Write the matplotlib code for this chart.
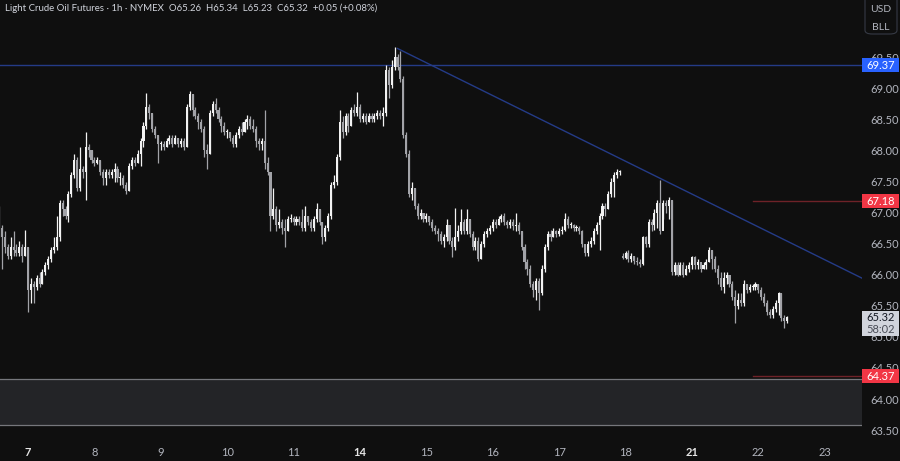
import matplotlib
matplotlib.use('Agg')
import matplotlib.pyplot as plt
import numpy as np
from matplotlib.patches import Rectangle, FancyBboxPatch

# hourly bars
closes = [66.75, 66.60, 66.45, 66.30, 66.45, 66.40, 66.35, 66.45, 66.30, 66.45,
          65.75, 65.85, 65.80, 65.95, 65.85, 66.05, 66.15, 66.25, 66.40, 66.45,
          66.60, 67.15, 67.05, 66.95, 67.30, 67.60, 67.85, 67.40, 67.70, 67.65,
          68.05, 68.00, 67.85, 67.80, 67.85, 67.65, 67.55, 67.65, 67.60, 67.65,
          67.70, 67.55, 67.55, 67.45, 67.35, 67.75, 67.85, 67.80, 67.95, 68.15,
          68.40, 68.70, 68.60, 68.35, 68.25, 68.10, 68.10, 68.05, 68.15, 68.20,
          68.10, 68.20, 68.10, 68.15, 68.05, 68.70, 68.90, 68.65, 68.55, 68.45,
          68.35, 68.00, 67.95, 68.60, 68.75, 68.65, 68.50, 68.40, 68.30, 68.30,
          68.20, 68.10, 68.25, 68.35, 68.30, 68.45, 68.50, 68.40, 68.35, 68.15,
          68.10, 68.15, 67.80, 67.65, 66.95, 67.05, 66.80, 66.85, 66.75, 66.70,
          66.90, 66.92, 66.85, 66.90, 66.85, 66.75, 66.95, 66.85, 66.75, 66.90,
          67.05, 66.85, 66.60, 66.75, 66.95, 67.45, 67.50, 67.90, 68.45, 68.30,
          68.55, 68.40, 68.65, 68.60, 68.70, 68.50, 68.55, 68.45, 68.55, 68.50,
          68.55, 68.60, 68.55, 68.60, 69.30, 69.05, 69.35, 69.50, 69.35, 69.15,
          68.25, 67.95, 67.30, 67.40, 67.10, 66.95, 67.00, 66.90, 66.95, 66.85,
          66.75, 66.70, 66.65, 66.55, 66.60, 66.80, 66.55, 66.45, 66.60, 66.70,
          66.85, 66.70, 66.90, 66.65, 66.45, 66.55, 66.25, 66.50, 66.65, 66.70,
          66.75, 66.85, 66.80, 66.90, 66.95, 66.85, 66.80, 66.85, 66.78, 66.80,
          66.70, 66.45, 66.20, 66.10, 65.85, 65.75, 65.90, 65.70, 66.10, 66.45,
          66.65, 66.60, 66.70, 66.65, 66.70, 66.72, 66.90, 66.80, 66.80, 66.75,
          66.75, 66.70, 66.50, 66.35, 66.50, 66.55, 66.70, 66.80, 66.95, 67.10,
          67.05, 67.30, 67.50, 67.60, 67.65, 67.65, 66.27, 66.35, 66.25, 66.30,
          66.22, 66.20, 66.18, 66.60, 66.50, 66.85, 66.80, 67.00, 67.15, 66.70,
          67.15, 67.10, 67.20, 66.05, 66.15, 66.00, 66.15, 66.00, 66.10, 66.15,
          66.28, 66.15, 66.20, 66.10, 66.15, 66.20, 66.40, 66.25, 66.10, 65.95,
          65.80, 65.95, 66.00, 65.85, 65.65, 65.50, 65.60, 65.55, 65.85, 65.75,
          65.80, 65.80, 65.85, 65.75, 65.65, 65.55, 65.40, 65.35, 65.45, 65.55,
          65.70, 65.30, 65.26, 65.32]
highs = [67.10, 66.80, 66.70, 66.50, 66.60, 66.70, 66.50, 66.55, 66.50, 66.72,
         66.45, 65.95, 65.90, 66.00, 66.05, 66.10, 66.20, 66.30, 66.45, 66.60,
         66.95, 67.20, 67.20, 67.10, 67.35, 67.65, 67.95, 67.90, 68.05, 67.75,
         68.30, 68.10, 68.00, 67.90, 67.90, 67.85, 67.70, 67.70, 67.70, 67.70,
         67.80, 67.75, 67.65, 67.60, 67.50, 67.80, 67.90, 67.90, 68.00, 68.20,
         68.45, 68.92, 68.75, 68.60, 68.40, 68.25, 68.15, 68.15, 68.20, 68.25,
         68.25, 68.25, 68.20, 68.20, 68.20, 68.75, 68.95, 68.90, 68.70, 68.60,
         68.50, 68.40, 68.10, 68.65, 68.80, 68.85, 68.70, 68.55, 68.45, 68.35,
         68.30, 68.25, 68.30, 68.40, 68.45, 68.50, 68.57, 68.55, 68.50, 68.40,
         68.20, 68.20, 68.65, 67.90, 67.65, 67.40, 67.10, 67.05, 66.90, 66.90,
         66.95, 66.98, 66.95, 66.95, 66.95, 67.05, 67.10, 66.95, 66.90, 66.95,
         67.15, 67.05, 66.85, 66.80, 67.00, 67.50, 67.60, 67.95, 68.65, 68.55,
         68.60, 68.60, 68.70, 68.75, 68.94, 68.75, 68.60, 68.60, 68.60, 68.60,
         68.60, 68.65, 68.65, 68.70, 69.37, 69.35, 69.45, 69.66, 69.55, 69.60,
         69.20, 68.30, 68.00, 67.50, 67.40, 67.15, 67.05, 67.00, 67.00, 66.95,
         66.90, 66.80, 66.75, 66.70, 66.65, 66.90, 66.80, 66.60, 67.07, 66.80,
         67.05, 66.90, 67.05, 66.90, 66.70, 66.60, 66.60, 66.55, 66.70, 66.75,
         66.80, 66.90, 66.90, 66.95, 66.98, 67.00, 66.88, 66.90, 66.90, 67.00,
         66.85, 66.70, 66.50, 66.25, 66.15, 65.90, 65.95, 65.95, 66.15, 66.50,
         66.70, 66.72, 66.75, 66.72, 66.75, 66.78, 67.00, 66.95, 66.85, 66.82,
         66.80, 66.78, 66.72, 66.50, 66.55, 66.60, 66.75, 66.85, 67.00, 67.15,
         67.15, 67.35, 67.55, 67.65, 67.70, 67.68, 66.35, 66.38, 66.40, 66.35,
         66.30, 66.28, 66.25, 66.62, 66.62, 66.90, 66.90, 67.05, 67.20, 67.52,
         67.20, 67.20, 67.25, 67.20, 66.20, 66.20, 66.20, 66.20, 66.15, 66.20,
         66.30, 66.30, 66.25, 66.20, 66.20, 66.25, 66.45, 66.40, 66.30, 66.15,
         66.05, 66.05, 66.05, 66.00, 65.90, 65.75, 65.70, 65.70, 65.92, 65.85,
         65.85, 65.85, 65.88, 65.85, 65.80, 65.70, 65.60, 65.45, 65.50, 65.60,
         65.72, 65.70, 65.35, 65.34]
lows = [66.60, 66.10, 66.35, 66.25, 66.25, 66.30, 66.30, 66.30, 66.20, 66.30,
        65.40, 65.55, 65.55, 65.75, 65.80, 65.85, 66.00, 66.10, 66.20, 66.35,
        66.40, 66.55, 66.95, 66.90, 66.85, 67.25, 67.55, 67.35, 67.35, 67.55,
        67.20, 67.90, 67.80, 67.75, 67.78, 67.60, 67.45, 67.45, 67.55, 67.55,
        67.50, 67.50, 67.45, 67.40, 67.30, 67.35, 67.70, 67.75, 67.80, 67.75,
        68.05, 68.35, 68.50, 68.30, 68.20, 67.80, 68.00, 68.00, 68.05, 68.10,
        68.05, 68.10, 68.05, 68.05, 68.00, 68.05, 68.65, 68.55, 68.50, 68.35,
        68.30, 67.90, 67.70, 67.95, 68.55, 68.60, 68.45, 68.30, 68.25, 68.20,
        68.15, 68.05, 68.05, 68.20, 68.25, 68.30, 68.35, 68.35, 68.30, 68.05,
        68.00, 68.00, 67.70, 67.60, 66.70, 66.90, 66.70, 66.75, 66.65, 66.45,
        66.70, 66.85, 66.80, 66.80, 66.80, 66.70, 66.70, 66.80, 66.70, 66.70,
        66.85, 66.80, 66.50, 66.55, 66.70, 66.90, 67.40, 67.45, 67.85, 68.20,
        68.25, 68.30, 68.40, 68.55, 68.55, 68.45, 68.45, 68.42, 68.45, 68.45,
        68.45, 68.50, 68.50, 68.40, 68.55, 68.84, 69.00, 69.30, 69.30, 69.10,
        68.20, 67.90, 67.25, 67.20, 67.05, 66.90, 66.90, 66.85, 66.85, 66.80,
        66.70, 66.65, 66.55, 66.50, 66.45, 66.55, 66.50, 66.29, 66.40, 66.55,
        66.65, 66.65, 66.65, 66.60, 66.40, 66.40, 66.22, 66.25, 66.45, 66.60,
        66.65, 66.70, 66.75, 66.80, 66.85, 66.80, 66.75, 66.75, 66.72, 66.70,
        66.65, 66.40, 66.10, 66.00, 65.80, 65.65, 65.60, 65.43, 65.68, 66.05,
        66.40, 66.55, 66.60, 66.60, 66.62, 66.65, 66.70, 66.75, 66.75, 66.70,
        66.70, 66.65, 66.45, 66.30, 66.30, 66.45, 66.50, 66.65, 66.40, 66.90,
        66.95, 67.05, 67.25, 67.25, 67.55, 67.60, 66.25, 66.25, 66.20, 66.20,
        66.18, 66.15, 66.12, 66.15, 66.45, 66.45, 66.70, 66.72, 66.75, 66.65,
        66.90, 67.00, 66.90, 66.00, 66.00, 65.98, 66.00, 65.97, 66.00, 66.05,
        66.10, 66.10, 66.10, 66.05, 66.10, 66.10, 66.20, 66.10, 66.05, 65.85,
        65.75, 65.70, 65.85, 65.80, 65.60, 65.22, 65.45, 65.50, 65.50, 65.70,
        65.72, 65.75, 65.75, 65.70, 65.60, 65.50, 65.35, 65.30, 65.30, 65.40,
        65.35, 65.25, 65.15, 65.23]
first_open = 67.05
gap_bar = 216      # contract roll: the bar opens away from the prior close
gap_open = 66.30

day_labels = ['7', '8', '9', '10', '11', '14', '15', '16', '17', '18', '21', '22', '23']
week_starts = ['7', '14', '21']
first_day_bar = 10
bars_per_day = 23

price_ticks = [63.5, 64.0, 64.5, 65.0, 65.5, 66.0, 66.5, 67.0, 67.5, 68.0, 68.5, 69.0, 69.5]
resistance = 69.37
level_mid = 67.18
level_low = 64.37
zone_bottom, zone_top = 63.58, 64.33
trend_bars = [138, 300]
trend_prices = [69.64, 65.92]
level_start_bar = 261
last_price = 65.32
countdown = '58:02'
header = 'Light Crude Oil Futures · 1h · NYMEX  O65.26  H65.34  L65.23  C65.32  +0.05 (+0.08%)'

BG = '#0f0f0f'
TXT = '#b2b5be'
BLUE_LINE = '#243b87'
RED_LINE = '#6e2228'
FONT = 'Lato'


def main():
	plt.rcParams['font.family'] = [FONT, 'DejaVu Sans']
	fig = plt.figure(figsize=(9, 4.61), dpi=100, facecolor=BG)
	ax = fig.add_axes([0, 24/461, 862/900, 437/461], facecolor=BG)

	c = np.array(closes)
	o = np.concatenate(([first_open], c[:-1]))
	o[gap_bar] = gap_open
	h = np.array(highs)
	l = np.array(lows)
	x = np.arange(len(c))
	up = c >= o
	cols = np.where(up, '#f2f2f2', '#a2a3a8')

	ax.vlines(x, l, h, colors=cols, linewidth=0.9, zorder=3)
	body_lo = np.minimum(o, c)
	body_h = np.maximum(np.abs(c - o), 0.018)
	ax.bar(x, body_h, bottom=body_lo, width=0.72, color=cols, linewidth=0, zorder=3)

	# lines and zone
	ax.axhline(resistance, color=BLUE_LINE, linewidth=1.0, zorder=2)
	ax.plot(trend_bars, trend_prices, color=BLUE_LINE, linewidth=1.0, zorder=2)
	ax.plot([level_start_bar, 300], [level_mid, level_mid], color=RED_LINE, linewidth=1.0, zorder=2)
	ax.plot([level_start_bar, 300], [level_low, level_low], color=RED_LINE, linewidth=1.0, zorder=2)
	ax.add_patch(Rectangle((-5, zone_bottom), 320, zone_top - zone_bottom,
		facecolor='#232427', edgecolor='none', zorder=1))
	ax.axhline(zone_top, color='#76777c', linewidth=0.9, zorder=1.5)
	ax.axhline(zone_bottom, color='#76777c', linewidth=0.9, zorder=1.5)

	ax.set_xlim(0.3, 298.9)
	ax.set_ylim(63.39, 70.42)
	for s in ax.spines.values():
		s.set_visible(False)

	ax.yaxis.tick_right()
	ax.set_yticks(price_ticks)
	ax.set_yticklabels(['%.2f' % p for p in price_ticks])
	ax.tick_params(axis='y', length=0, pad=6, labelsize=8, labelcolor=TXT)

	ticks = [first_day_bar + bars_per_day*k for k in range(len(day_labels))]
	ax.set_xticks(ticks)
	ax.set_xticklabels(day_labels)
	ax.tick_params(axis='x', length=0, pad=7, labelsize=8, labelcolor=TXT)
	for t in ax.get_xticklabels():
		if t.get_text() in week_starts:
			t.set_color('#e6e6e6')
			t.set_fontweight('bold')

	# price tags on the right scale
	tr = ax.get_yaxis_transform()
	ppx = (70.42 - 63.39) / 437.0
	def tag(value, text, bg, fg):
		hh = 14 * ppx
		ax.add_patch(Rectangle((1.0, value - hh/2), 37/862, hh, transform=tr,
			facecolor=bg, edgecolor='none', clip_on=False, zorder=6))
		ax.text(1.0 + 18.5/862, value, text, transform=tr, ha='center', va='center',
			fontsize=8, color=fg, clip_on=False, zorder=7)
	tag(resistance, '%.2f' % resistance, '#2962ff', 'white')
	tag(level_mid, '%.2f' % level_mid, '#f23645', 'white')
	tag(level_low, '%.2f' % level_low, '#f23645', 'white')

	# current price + countdown
	box_h = 25 * ppx
	box_mid = last_price - 6 * ppx
	ax.add_patch(Rectangle((1.0, box_mid - box_h/2), 37/862, box_h, transform=tr,
		facecolor='#d1d4dc', edgecolor='none', clip_on=False, zorder=6))
	ax.text(1.0 + 18.5/862, box_mid + 6*ppx, '%.2f' % last_price, transform=tr, ha='center',
		va='center', fontsize=8, color='#131722', clip_on=False, zorder=7)
	ax.text(1.0 + 18.5/862, box_mid - 6*ppx, countdown, transform=tr, ha='center',
		va='center', fontsize=8, color='#4a4d57', clip_on=False, zorder=7)

	# header and currency box
	fig.text(5/900, 1 - 8/461, header, fontsize=6.9, color='#d1d4dc', va='center', ha='left')
	fig.patches.append(FancyBboxPatch((865/900, 1 - 34/461), 32/900, 40/461,
		boxstyle='round,pad=0,rounding_size=0.008', transform=fig.transFigure,
		facecolor='none', edgecolor='#363a45', linewidth=0.8))
	fig.text(881/900, 1 - 9/461, 'USD', fontsize=7.5, color=TXT, ha='center', va='center')
	fig.text(881/900, 1 - 28/461, 'BLL', fontsize=7.5, color=TXT, ha='center', va='center')

	fig.savefig('out.png', dpi=100, facecolor=BG)


if __name__ == "__main__":
	main()
